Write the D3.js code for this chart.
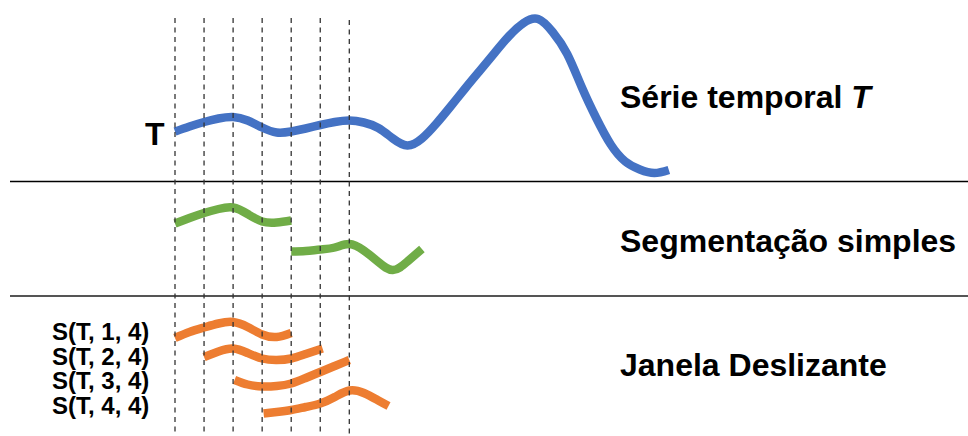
<!DOCTYPE html>
<html>
<head>
<meta charset="utf-8">
<script src="https://cdn.jsdelivr.net/npm/d3@7/dist/d3.min.js"></script>
<style>
  html, body { margin: 0; padding: 0; background: #fff; }
  svg { display: block; }
  text { font-family: "Liberation Sans", Arial, sans-serif; font-weight: bold; fill: #000; }
</style>
</head>
<body>
<svg id="chart" width="968" height="436"></svg>
<script>
// ---------- DATA ----------
// time grid marks (dashed lines)
const gridTimes = [0, 1, 2, 3, 4, 5, 6];

// Série temporal T
const serieTimes = [0,0.5,1,1.5,2,2.5,3,3.5,4,4.5,5,5.5,6,6.5,7,7.5,8,8.5,9,9.5,10,10.5,11,11.5,12,12.5,13,13.5,14,14.5,15,15.5,16,16.5,17];
const serieValues = [48.5,53.5,58,61.5,63,59.5,52.5,47.5,48.5,51.5,55,58,59.5,57.5,52,41.5,34.5,41.5,56.5,74,92,109.5,127,144,157,161,148,126,93,62,35.5,18.5,10.5,7,10];

// Segmentação simples
const seg1Times = [0,0.5,1,1.5,2,2.5,3,3.5,4];
const seg1Values = [72.5,78,83,87,88.5,82,74.5,73.5,75.5];
const seg2Times = [4,4.5,5,5.5,6,6.5,7,7.5,8,8.5];
const seg2Values = [44.5,45,46.5,48.5,52,45.5,34,26,34.5,47];

// Janela deslizante S(T, i, 4)
const winLabels = ["S(T, 1, 4)", "S(T, 2, 4)", "S(T, 3, 4)", "S(T, 4, 4)"];
const win1Times = [0,0.5,1,1.5,2,2.5,3,3.5,4];
const win1Values = [98,104,108.5,112.5,114,109,101.5,99,103];
const win2Times = [1,1.5,2,2.5,3,3.5,4,4.5,5.08];
const win2Values = [79,84.5,87.5,83,77.5,76,77.5,82,87.5];
const win3Times = [2.05,2.5,3,3.5,4,4.5,5,5.5,6];
const win3Values = [56,51.5,49.5,50,52.5,58,64,70,76];
const win4Times = [3.05,3.5,4,4.5,5,5.5,6,6.5,7,7.35];
const win4Values = [22.5,24,26,29,32.5,39,45.5,43,35.5,30];

// row titles
const rowTitles = ["Série temporal ", "Segmentação simples", "Janela Deslizante"];
const seriesName = "T";

// ---------- DRAWING ----------
const svg = d3.select("#chart");
const W = 968, H = 436;
const colors = { blue: "#4472C4", green: "#70AD47", orange: "#ED7D31" };

const x = d3.scaleLinear().domain([0, 6]).range([175, 349.3]);
const yTop = d3.scaleLinear().domain([0, 180]).range([180, 0]);
const yMid = d3.scaleLinear().domain([0, 115]).range([296, 181]);
const yBot = d3.scaleLinear().domain([0, 140]).range([436, 296]);

function drawCurve(times, values, yScale, color) {
  const pts = times.map((t, i) => [t, values[i]]);
  const line = d3.line()
    .x(d => x(d[0]))
    .y(d => yScale(d[1]))
    .curve(d3.curveNatural);
  svg.append("path")
    .attr("d", line(pts))
    .attr("fill", "none")
    .attr("stroke", color)
    .attr("stroke-width", 8.5)
    .attr("stroke-linecap", "butt")
    .attr("stroke-linejoin", "round");
}

// separators
svg.append("line").attr("x1", 10).attr("x2", W).attr("y1", 181.5).attr("y2", 181.5)
  .attr("stroke", "#000").attr("stroke-width", 1.3);
svg.append("line").attr("x1", 10).attr("x2", W).attr("y1", 296).attr("y2", 296)
  .attr("stroke", "#555").attr("stroke-width", 2);

// curves
drawCurve(serieTimes, serieValues, yTop, colors.blue);
drawCurve(seg1Times, seg1Values, yMid, colors.green);
drawCurve(seg2Times, seg2Values, yMid, colors.green);
drawCurve(win1Times, win1Values, yBot, colors.orange);
drawCurve(win2Times, win2Values, yBot, colors.orange);
drawCurve(win3Times, win3Values, yBot, colors.orange);
drawCurve(win4Times, win4Values, yBot, colors.orange);

// dashed grid
svg.append("g").selectAll("line").data(gridTimes).join("line")
  .attr("x1", d => x(d)).attr("x2", d => x(d))
  .attr("y1", (d, i) => i === gridTimes.length - 1 ? 20 : 18)
  .attr("y2", H)
  .attr("stroke", "#333")
  .attr("stroke-width", 1.3)
  .attr("stroke-dasharray", "5,4.5");

// labels
svg.append("text").attr("x", 145).attr("y", 145).attr("font-size", 32).text(seriesName);

const t1 = svg.append("text").attr("x", 620).attr("y", 108).attr("font-size", 32);
t1.append("tspan").text(rowTitles[0]);
t1.append("tspan").attr("font-style", "italic").text(seriesName);
svg.append("text").attr("x", 620).attr("y", 252).attr("font-size", 32).text(rowTitles[1]);
svg.append("text").attr("x", 620).attr("y", 376).attr("font-size", 32).text(rowTitles[2]);

svg.append("g").selectAll("text").data(winLabels).join("text")
  .attr("x", 52)
  .attr("y", (d, i) => 340 + i * 24.7)
  .attr("font-size", 24)
  .text(d => d);
</script>
</body>
</html>
